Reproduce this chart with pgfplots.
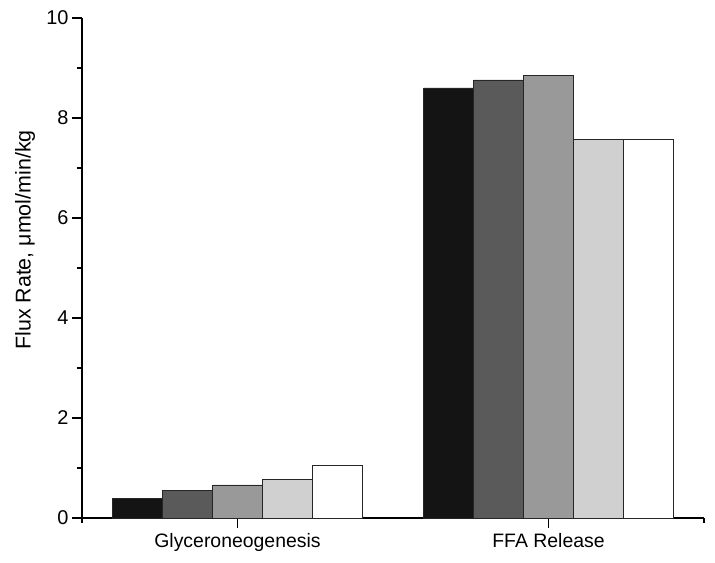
\documentclass[border=0pt]{standalone}
\usepackage{pgfplots}
\pgfplotsset{compat=1.18}
\usepackage{fontspec}
\setmainfont{Liberation Sans}

\definecolor{c1}{HTML}{141414}
\definecolor{c2}{HTML}{5A5A5A}
\definecolor{c3}{HTML}{999999}
\definecolor{c4}{HTML}{D0D0D0}
\definecolor{c5}{HTML}{FFFFFF}

\begin{document}
\begin{tikzpicture}
\useasboundingbox (-82bp,-45bp) rectangle (633bp,518bp);
\begin{axis}[
  anchor=south west,
  at={(0,0)},
  scale only axis,
  width=622bp, height=500bp,
  xmin=-0.5, xmax=1.5,
  ymin=0, ymax=10,
  axis lines=left,
  axis line style={-, line width=1.1pt},
  ybar=0pt,
  bar width=50bp,
  xtick={0,1},
  xticklabels={Glyceroneogenesis, FFA Release},
  minor xtick={-0.5,1.5},
  ytick={0,2,4,6,8,10},
  minor ytick={1,3,5,7,9},
  tick align=outside,
  major tick length=10bp,
  minor tick length=5bp,
  tick style={line width=1.1pt, black},
  yticklabel style={font=\fontsize{20}{24}\selectfont},
  xticklabel style={font=\fontsize{19.5}{23}\selectfont, yshift=-2bp},
  /pgf/number format/assume math mode=true,
  ylabel={Flux Rate, μmol/min/kg},
  ylabel style={font=\fontsize{21.5}{25}\selectfont, at={(axis description cs:-0.0916,0.556)}, anchor=center},
  clip=false,
]
\addplot[fill=c1, draw=black!85, line width=0.8pt] coordinates {(0,0.39) (1,8.60)};
\addplot[fill=c2, draw=black!85, line width=0.8pt] coordinates {(0,0.55) (1,8.76)};
\addplot[fill=c3, draw=black!85, line width=0.8pt] coordinates {(0,0.66) (1,8.85)};
\addplot[fill=c4, draw=black!85, line width=0.8pt] coordinates {(0,0.77) (1,7.57)};
\addplot[fill=c5, draw=black!85, line width=0.8pt] coordinates {(0,1.05) (1,7.57)};
\end{axis}
\end{tikzpicture}
\end{document}
